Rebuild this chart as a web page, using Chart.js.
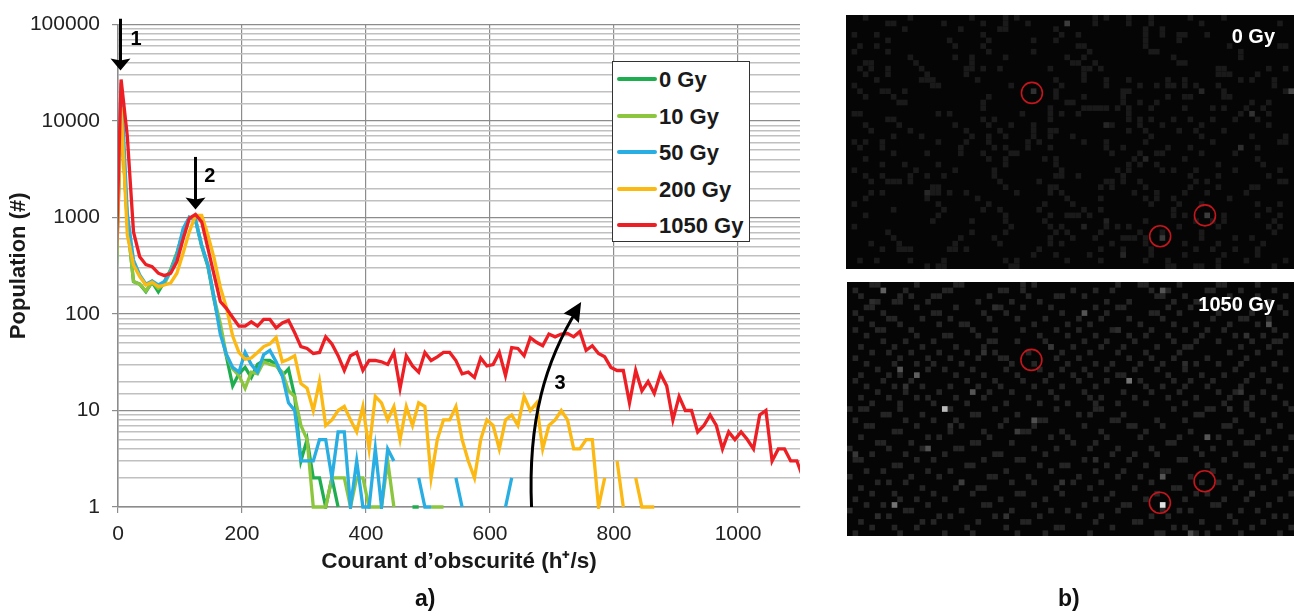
<!DOCTYPE html>
<html>
<head>
<meta charset="utf-8">
<script src="https://cdn.jsdelivr.net/npm/chart.js@4"></script>
<style>
  html, body { margin: 0; padding: 0; background: #fff; overflow: hidden; }
  body { width: 1294px; height: 613px; position: relative; font-family: "Liberation Sans", Arial, sans-serif; }
  canvas { position: absolute; display: block; }
  #curves { left: 0; top: 0; }
  #panel0 { left: 846px; top: 15px; background: #050505; filter: blur(0.6px); }
  #panel1 { left: 847px; top: 282px; background: #050505; filter: blur(0.6px); }
  .tag { position: absolute; font-weight: bold; font-size: 23px; line-height: 26px; color: #111; }
  .gy { position: absolute; font-weight: bold; font-size: 20px; line-height: 24px; color: #fff; text-align: right; width: 120px; }
  #legend { position: absolute; left: 612px; top: 61px; width: 136px; height: 179px; border: 1.5px solid #333; background: #fff; }
  #legend div { position: absolute; left: 46px; font-weight: bold; font-size: 22px; line-height: 25px; color: #1a1a1a; white-space: nowrap; }
  #legend i { position: absolute; left: -42px; top: 10px; width: 40px; height: 4px; border-radius: 2px; }
</style>
</head>
<body>
<canvas id="curves" width="1294" height="613"></canvas>
<canvas id="panel0" width="448" height="254"></canvas>
<canvas id="panel1" width="447" height="254"></canvas>
<div class="gy" style="left:1155px;top:24px">0 Gy</div>
<div class="gy" style="left:1155px;top:292px">1050 Gy</div>
<div id="legend"></div>
<div class="tag" style="left:415px;top:585px">a)</div>
<div class="tag" style="left:1058px;top:585px">b)</div>
<script>
// dark current bins, centre of each 10 h+/s bin
const bins = [-5,5,15,25,35,45,55,65,75,85,95,105,115,125,135,145,155,165,175,185,
  195,205,215,225,235,245,255,265,275,285,295,305,315,325,335,345,355,365,375,385,
  395,405,415,425,435,445,455,465,475,485,495,505,515,525,535,545,555,565,575,585,
  595,605,615,625,635,645,655,665,675,685,695,705,715,725,735,745,755,765,775,785,
  795,805,815,825,835,845,855,865,875,885,895,905,915,925,935,945,955,965,975,985,
  995,1005,1015,1025,1035,1045,1055,1065,1075,1085,1095,1105]

const n = null
const gy0 = [100,12000,900,217,204,170,214,170,218,290,430,720,1000,940,500,310,140,70,36,18,
  24,28,22,30,33,33,30,23,27,14,3,5,2,2,1,2,1,n,n,n,
  n,n,n,n,n,n,n,n,1,1,n,n,n,n,n,n,n,n,n,n,
  n,n,n,n,n,n,n,n,n,n,n,n,n,n,n,n,n,n,n,n,
  n,n,n,n,n,n,n,n,n,n,n,n,n,n,n,n,n,n,n,n,
  n,n,n,n,n,n,n,n,n,n,n,n]
const gy10 = [100,12000,900,218,204,174,214,185,205,280,420,700,1000,960,518,323,148,80,37,27,
  23,17,25,24,32,30,29,25,16,14,7,5,1,1,1,2,2,2,1,2,
  2,1,1,1,3,1,n,n,n,n,n,1,1,1,n,n,n,n,n,n,
  n,n,n,n,n,n,n,n,n,n,n,n,n,n,n,n,n,n,n,n,
  n,n,n,n,n,n,n,n,n,n,n,n,n,n,n,n,n,n,n,n,
  n,n,n,n,n,n,n,n,n,n,n,n]
const gy50 = [130,25000,1100,363,254,204,220,200,218,275,410,770,1010,940,518,323,148,62,38,28,
  25,40,30,25,38,42,32,23,12,10,3,3,3,5,5,2,6,6,1,3,
  1,1,4,1,4,3,n,n,n,2,1,1,n,n,n,2,1,n,n,n,
  n,n,n,1,2,n,n,n,n,n,n,n,n,n,n,n,n,n,n,n,
  n,n,n,n,n,n,n,n,n,n,n,n,n,n,n,n,n,n,n,n,
  n,n,n,n,n,n,n,n,n,n,n,n]
const gy200 = [130,14000,660,322,245,200,214,193,200,210,265,426,710,1050,1050,660,380,190,116,59,
  40,34,35,40,46,49,57,32,34,37,19,17,10,20,7,8,10,11,8,6,
  11,4,14,12,8,11,5,11,7,12,11,2,5,8,8,11,5,3,2,5,
  8,7,4,8,9,7,14,10,12,4,7,8,10,8,4,4,5,5,1,2,
  n,3,1,n,2,1,1,1,n,n,n,n,n,n,n,n,n,n,n,n,
  n,n,n,n,n,n,n,n,n,n,n,n]
const gy1050 = [130,27000,7000,710,393,325,310,265,250,265,350,600,980,1080,900,480,254,135,114,92,
  75,75,83,75,88,88,72,81,86,64,46,44,39,40,58,49,37,26,37,40,
  26,33,33,32,30,40,17,37,29,25,40,33,36,40,40,33,24,25,22,35,
  29,30,40,23,45,44,37,57,51,47,62,58,62,63,58,66,42,47,39,36,
  28,26,26,12,26,16,20,15,24,18,8,14,10,10,6,7,9,7,4,6,
  5,6,5,4,9,10,3,4,4,3,3,2]

const seriesNames = ['0 Gy', '10 Gy', '50 Gy', '200 Gy', '1050 Gy']
const seriesValues = [gy0, gy10, gy50, gy200, gy1050]
const seriesColors = ['#1fae4f', '#8cc63f', '#29aee3', '#fcb813', '#ed1f24']
const xTicks = [0, 200, 400, 600, 800, 1000]
const yDecades = [1, 10, 100, 1000, 10000, 100000]

// arrows and numbers drawn over the curves, in data units
const arrowOne = [[4, 115000], [4, 33500]]
const arrowTwo = [[125, 4250], [125, 1210]]
const arrowThree = [[667, 1], [661, 7.9], [689, 32.8], [742, 115], [747, 133]]
const notes = [['1', 29, 70000], ['2', 148, 2650], ['3', 713, 19]]

// b) pixels, one line per row: [row, columns...]
const cells0 = [
  [0,3,11,22,28,30,44,46,50,54,61,67],[1,7,8,17,24,28,32,44,50,54,63,77],[2,10,20,27,28,37,53,56],
  [3,1,5,24,38,41,53,56,59,60,64],[4,7,18,25,33,37,53,59],[5,2,5,19,24,41,42,53,68,77,78],
  [6,1,7,25,33,43,54,55,70],[7,11,19,22,28,39,42,58,70],[8,3,4,12,22,40,41,44,59,60],
  [9,2,4,7,13,21,22,24,27,36,42,43,45,66,67,75,78],[10,3,7,14,21,42,66,67,68,73],
  [11,5,13,14,15,23,37,42,46,50,57,60,70,72,76],[12,1,15,16,29,38,46,52,55,57,58,60,62,66,76],
  [13,2,6,7,10,37,49,50,67,78],[14,3,8,25,37,42,49,57,60,61,67,68],[15,9,10,24,39,40,49,52,55,72,75],
  [16,24,36,42,43,44,45,46,48,50,54,60,65,67,71,74],[17,1,2,16,18,31,36,38,41,50,70,75],
  [18,7,8,24,26,36,50,52,54,58,61,65,69,73],[19,3,9,19,25,29,33,46,47,52,56,63,75],
  [20,4,11,21,27,33,36,37,50,53,59,62,67],[21,8,13,22,25,28,33,36,40,54,63,72,78],
  [22,1,3,6,16,21,25,32,34,42,46,53,65,77,78],[23,2,6,20,26,28,32,36,46,49,57,61,73],
  [24,8,14,20,24,29,30,47,52,55,56,63,69],[25,3,25,28,35,37,51,60,73],
  [26,6,10,16,28,37,50,52,55,66,74],[27,1,12,19,26,38,48,50,56,58,62,69,77],
  [28,3,6,11,14,17,26,37,38,41,49,61,66,75],[29,4,7,8,9,11,27,34,46,47,49,52,62,64,77,78],
  [30,15,16,28,36,37,45,47,53,61,66,72,73],[31,4,6,15,16,18,21,30,36,38,51,55,60,64,71],
  [32,3,14,23,39,45,53,55,58,68],[33,1,16,25,35,40,54,59,63,73,77],[34,8,17,24,27,34,42,45,58,75],
  [35,3,16,28,36,39,40,41,43,58,60,67,73,77],[36,15,22,28,35,53,62,65,67,76],
  [37,1,29,36,38,46,48,50,59,66,75,77],[38,7,22,28,37,39,45,52,56,63,76],
  [39,8,20,26,36,40,44,49,50,51,53,63,69,72],[40,4,9,19,27,36,38,47,53,60,66,74],
  [41,6,9,10,11,18,19,21,34,45,49,54,62,65,69,73],[42,33,37,43,49,54,60,67,73],
  [43,2,5,11,17,28,30,39,45,53,57,66,71,78],[44,14,16,17,29,30,57,58,62,63,66,76]
]
const bright0 = [[39,1,60],[79,13,70],[33,13,48],[56,39,58],[64,35,60],[72,17,50],[70,23,46],
  [63,13,38],[46,19,38],[53,25,38],[14,31,40],[49,42,38],[42,37,34],[46,36,34]]

const cells1 = [
  [0,4,5,12,19,20,31,33,48,52,53,59,66,67,73],[1,1,10,17,18,27,28,31,40,44,47,54,57,64,65,70,76],
  [2,2,9,11,15,16,25,32,37,38,42,55,56,60,68,73,78],[3,5,8,9,14,23,29,34,46,50,58,62,63,67,75],
  [4,3,4,12,19,26,27,31,36,44,48,49,57,61,69,74,77],[5,1,6,15,16,24,28,38,46,54,55,59,66,72,78],
  [6,2,7,8,13,18,25,30,35,41,45,50,56,65,70,71,75],[7,4,9,16,20,21,33,39,43,52,58,62,68,73],
  [8,1,5,6,11,22,26,31,37,41,47,48,54,60,64,67,76],[9,3,12,17,18,23,34,39,44,50,53,57,63,69,74,78],
  [10,6,10,15,25,26,30,35,42,46,51,58,62,66,72,76,77],[11,2,8,13,19,24,36,40,45,49,55,60,61,70,75],
  [12,4,7,11,16,21,26,32,38,43,48,53,59,68,73,77],[13,1,9,14,18,23,27,28,37,41,50,54,58,64,71],
  [14,3,8,12,15,20,29,33,39,44,47,52,56,62,66,70,76],[15,5,14,17,22,28,34,38,42,46,51,55,60,69,74,78],
  [16,2,7,9,19,24,30,36,40,43,48,49,57,63,67,72],[17,1,6,11,21,26,31,35,41,46,52,58,61,65,71,75],
  [18,3,8,13,18,23,27,33,38,44,53,56,60,64,70,77],[19,5,10,16,25,29,36,42,49,54,59,66,69,74],
  [20,2,7,12,14,19,24,32,37,43,45,51,57,62,68,72,76],[21,4,9,15,21,28,34,39,44,48,53,60,67,71,78],
  [22,0,2,3,9,17,18,26,37,44,45,58,64,65,71,79],[23,6,7,13,22,23,30,41,43,49,62,63,72,76],
  [24,1,10,15,19,28,34,35,47,48,55,60,69,74],[25,3,4,12,20,27,33,42,50,51,56,67,68,77],
  [26,8,9,18,24,31,32,38,45,53,61,70,75],[27,2,14,16,25,36,39,46,52,59,64,66,73,79],
  [28,5,6,11,22,23,29,40,44,57,58,68,71,72],[29,0,7,13,19,20,33,37,43,48,54,62,65,76,78],
  [30,4,10,17,26,27,35,47,51,55,63,69,74],[31,1,2,12,15,24,30,31,42,50,59,60,67,77],
  [32,8,9,21,22,34,38,39,46,53,64,71,72],[33,3,6,14,18,28,36,44,49,56,57,65,75,79],
  [34,0,11,16,25,26,32,41,48,52,61,68,73,78],[35,5,7,10,20,29,33,40,45,54,63,66,70,76],
  [36,2,13,19,23,24,37,43,51,58,59,69,74],[37,4,8,15,22,30,31,38,47,55,62,64,72,79],
  [38,1,9,12,17,27,35,44,46,53,60,67,71,77],[39,3,6,14,24,25,33,42,49,50,65,66,75],
  [40,0,10,11,20,29,36,39,48,56,59,61,70,73],[41,5,7,16,18,26,34,41,45,54,57,68,76,78],
  [42,2,13,15,23,31,32,44,51,52,63,69,74],[43,4,8,12,21,28,37,38,47,58,60,66,72,79],
  [44,1,9,17,22,30,35,43,55,56,62,64,70,77]
]
const bright1 = [[6,1,95],[56,1,85],[17,22,185],[50,17,115],[56,39,225],[8,39,115],[12,16,95],[9,15,85],
  [22,19,85],[42,5,85],[64,27,85],[75,7,80],[33,24,80],[14,29,80],[56,34,85],[61,44,75],[1,30,55],
  [30,26,60],[20,35,60],[36,11,55],[24,12,50],[10,18,50],[70,19,55],[71,9,50],[38,35,50],[4,3,45],
  [26,4,45],[48,8,45],[60,14,45],[68,22,45],[44,31,45],[18,25,45],[28,41,50],[5,41,45],[72,37,45]]
const rings0 = [[33.2, 13.8], [64.1, 35.5], [56.1, 39.2]]
const rings1 = [[33, 13.8], [64, 35.3], [56, 39.1]]

const isDecade = v => yDecades.includes(v)

function drawHead(ctx, tx, ty, angle, len, half) {
  ctx.save()
  ctx.translate(tx, ty)
  ctx.rotate(angle)
  ctx.beginPath()
  ctx.moveTo(0, 0)
  ctx.lineTo(-len, -half)
  ctx.lineTo(-len + 2, 0)
  ctx.lineTo(-len, half)
  ctx.closePath()
  ctx.fill()
  ctx.restore()
}

const overlay = {
  id: 'overlay',
  afterDatasetsDraw(chart) {
    const ctx = chart.ctx
    const px = v => chart.scales.x.getPixelForValue(v)
    const py = v => chart.scales.y.getPixelForValue(v)
    ctx.save()
    ctx.strokeStyle = '#000'
    ctx.fillStyle = '#000'
    ctx.lineWidth = 3
    for (const a of [arrowOne, arrowTwo]) {
      ctx.beginPath()
      ctx.moveTo(px(a[0][0]), py(a[0][1]))
      ctx.lineTo(px(a[1][0]), py(a[1][1]) - 8)
      ctx.stroke()
      drawHead(ctx, px(a[1][0]), py(a[1][1]), Math.PI / 2, 12, 10)
    }
    const c = arrowThree
    ctx.beginPath()
    ctx.moveTo(px(c[0][0]), py(c[0][1]))
    ctx.bezierCurveTo(px(c[1][0]), py(c[1][1]), px(c[2][0]), py(c[2][1]), px(c[3][0]), py(c[3][1]))
    ctx.stroke()
    drawHead(ctx, px(c[4][0]), py(c[4][1]),
      Math.atan2(py(c[4][1]) - py(c[2][1]), px(c[4][0]) - px(c[2][0])), 19, 9)
    ctx.font = 'bold 20px "Liberation Sans"'
    ctx.textAlign = 'center'
    ctx.textBaseline = 'middle'
    notes.forEach(t => ctx.fillText(t[0], px(t[1]), py(t[2])))
    ctx.restore()
  }
}

new Chart(document.getElementById('curves'), {
  type: 'line',
  data: {
    datasets: seriesNames.map((name, i) => ({
      label: name,
      data: bins.map((b, k) => ({ x: b, y: seriesValues[i][k] })),
      borderColor: seriesColors[i],
      backgroundColor: seriesColors[i],
      borderWidth: 3.3,
      pointRadius: 0,
      tension: 0,
      spanGaps: false,
      order: 4 - i,
      clip: { left: 0, top: 4, right: 0, bottom: 2 }
    }))
  },
  options: {
    responsive: false,
    animation: false,
    layout: { padding: { left: 0, top: 22, right: 494, bottom: 38 }, autoPadding: false },
    plugins: { legend: { display: false }, tooltip: { enabled: false } },
    scales: {
      x: {
        type: 'linear',
        min: 0,
        max: 1100,
        afterFit: s => { s.height = 68 },
        afterBuildTicks: s => { s.ticks = xTicks.map(v => ({ value: v })) },
        grid: { color: '#8c8c8c', lineWidth: 1.2, tickLength: 6, tickColor: '#8c8c8c' },
        border: { color: '#8c8c8c', width: 1.5 },
        ticks: { color: '#222', font: { size: 21, family: 'Liberation Sans' }, maxRotation: 0, padding: 9,
          callback: v => String(v) },
        title: { display: true, text: 'Courant d’obscurité (h⁺/s)', color: '#1a1a1a',
          font: { size: 22.5, weight: 'bold', family: 'Liberation Sans' }, padding: 0 }
      },
      y: {
        type: 'logarithmic',
        min: 1,
        max: 100000,
        afterFit: s => { s.width = 118 },
        grid: {
          color: c => isDecade(c.tick.value) ? '#8c8c8c' : '#c0c0c0',
          lineWidth: c => isDecade(c.tick.value) ? 1.2 : 1.4,
          tickLength: 6,
          tickColor: c => isDecade(c.tick.value) ? '#8c8c8c' : 'rgba(0,0,0,0)'
        },
        border: { color: '#8c8c8c', width: 1.5 },
        ticks: {
          autoSkip: false,
          color: '#222',
          font: { size: 21, family: 'Liberation Sans' },
          padding: 12,
          callback: v => isDecade(v) ? String(v) : ''
        },
        title: { display: true, text: 'Population (#)', color: '#1a1a1a',
          font: { size: 22, weight: 'bold', family: 'Liberation Sans' }, padding: { top: 6, bottom: 0 } }
      }
    }
  },
  plugins: [overlay]
})

// legend box, built from the same series lists
const box = document.getElementById('legend')
seriesNames.forEach((name, i) => {
  const row = document.createElement('div')
  row.style.top = (5 + i * 36.6) + 'px'
  row.textContent = name
  const sw = document.createElement('i')
  sw.style.background = seriesColors[i]
  row.appendChild(sw)
  box.appendChild(row)
})

function rowsToPoints(rows) {
  const pts = []
  rows.forEach(r => r.slice(1).forEach(c => pts.push({ x: c + 0.5, y: r[0] + 0.5 })))
  return pts
}

function drawPanel(id, rows, dim, bright, rings) {
  new Chart(document.getElementById(id), {
    type: 'scatter',
    data: {
      datasets: [
        { data: rings.map(p => ({ x: p[0], y: p[1] })), pointStyle: 'circle', pointRadius: 10.5,
          pointBorderWidth: 1.6, pointBorderColor: '#c4161c', pointBackgroundColor: 'rgba(0,0,0,0)' },
        { data: bright.map(p => ({ x: p[0] + 0.5, y: p[1] + 0.5 })), pointStyle: 'rect', pointRadius: 4,
          pointBorderWidth: 0, pointBackgroundColor: bright.map(p => `rgb(${p[2]},${p[2]},${p[2]})`) },
        { data: rowsToPoints(rows), pointStyle: 'rect', pointRadius: 4,
          pointBorderWidth: 0, pointBackgroundColor: dim }
      ]
    },
    options: {
      responsive: false,
      animation: false,
      layout: { padding: 0, autoPadding: false },
      plugins: { legend: { display: false }, tooltip: { enabled: false } },
      scales: {
        x: { type: 'linear', min: 0, max: 80, display: false },
        y: { type: 'linear', min: 0, max: 45, reverse: true, display: false }
      }
    }
  })
}

drawPanel('panel0', cells0, '#1a1a1a', bright0, rings0)
drawPanel('panel1', cells1, '#252525', bright1, rings1)
</script>
</body>
</html>
